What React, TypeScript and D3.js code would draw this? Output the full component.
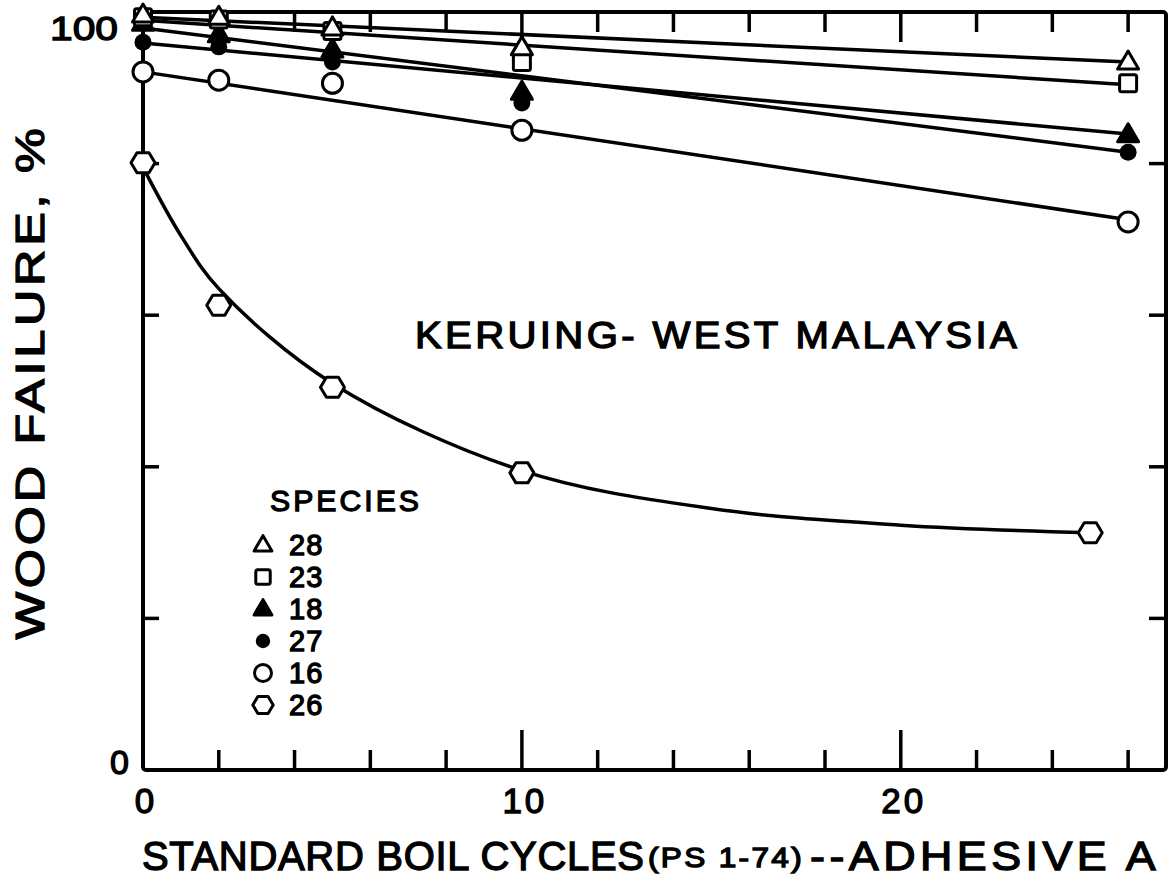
import React from 'react';
import * as d3 from 'd3';

// ---- data ----
const cycles = [0, 2, 5, 10, 26];
const species28 = [99.6, 99.3, 97.9, 95.3, 93.4];
const species23 = [99.3, 99.0, 97.5, 93.4, 90.6];
const species18 = [98.5, 97.0, 95.0, 89.4, 83.8];
const species27 = [96.0, 95.4, 93.4, 88.0, 81.5];
const species16 = [92.1, 91.0, 90.6, 84.4, 72.3];
const cycles26 = [0, 2, 5, 10, 25];
const species26 = [80.1, 61.3, 50.5, 39.2, 31.3];

// fitted straight lines (endpoints)
const fitX = [0, 26];
const fit28 = [99.3, 93.4];
const fit23 = [98.9, 90.4];
const fit18 = [95.9, 83.9];
const fit27 = [97.9, 81.5];
const fit16 = [92.1, 72.6];
// fitted curve for species 26
const curveX26 = [0, 1, 2, 5, 10, 15, 20, 25];
const curve26 = [79.5, 70.5, 63.5, 51, 39.5, 34.5, 32.3, 31.3];

const xTicks = [2, 4, 6, 8, 10, 12, 14, 16, 18, 20, 22, 24, 26];
const xMajor = [10, 20];
const xLabels = [0, 10, 20];
const yTicks = [20, 40, 60, 80];
const yLabels = [0, 100];
const legendNames = ['28', '23', '18', '27', '16', '26'];
const legendShapes = ['triUp', 'square', 'triFill', 'dot', 'circle', 'hex'];

const FONT = "'Liberation Sans', Arial, sans-serif";

function Marker({ shape, cx, cy, s = 1 }: { shape: string; cx: number; cy: number; s?: number }) {
  const sw = 3;
  if (shape === 'triUp' || shape === 'triFill') {
    const d = `M${cx},${cy - 11 * s}L${cx + 10.5 * s},${cy + 7 * s}L${cx - 10.5 * s},${cy + 7 * s}Z`;
    return <path d={d} fill={shape === 'triFill' ? '#000' : '#fff'} stroke="#000" strokeWidth={sw} strokeLinejoin="round" />;
  }
  if (shape === 'square') {
    const h = 8.5 * s;
    return <rect x={cx - h} y={cy - h} width={2 * h} height={2 * h} rx={2} fill="#fff" stroke="#000" strokeWidth={sw} />;
  }
  if (shape === 'dot') {
    return <circle cx={cx} cy={cy} r={8.5 * s} fill="#000" />;
  }
  if (shape === 'circle') {
    return <circle cx={cx} cy={cy} r={10 * s} fill="#fff" stroke="#000" strokeWidth={sw} />;
  }
  const w = 12 * s, h = 10 * s;
  const d = `M${cx - w},${cy}L${cx - w / 2},${cy - h}L${cx + w / 2},${cy - h}L${cx + w},${cy}L${cx + w / 2},${cy + h}L${cx - w / 2},${cy + h}Z`;
  return <path d={d} fill="#fff" stroke="#000" strokeWidth={sw} strokeLinejoin="round" />;
}

export default function App() {
  const W = 1174, H = 887;
  const left = 143, right = 1166, top = 12, bottom = 770;
  const x = d3.scaleLinear().domain([0, 27]).range([left, right]);
  const y = d3.scaleLinear().domain([0, 100]).range([bottom, top]);

  const straight = d3.line<number>().x((_, i) => x(fitX[i])).y((v) => y(v));
  const curved = d3
    .line<number>()
    .x((_, i) => x(curveX26[i]))
    .y((v) => y(v))
    .curve(d3.curveCatmullRom.alpha(0.5));

  const series = [
    { shape: 'circle', vals: species16, xs: cycles },
    { shape: 'dot', vals: species27, xs: cycles },
    { shape: 'triFill', vals: species18, xs: cycles },
    { shape: 'square', vals: species23, xs: cycles },
    { shape: 'triUp', vals: species28, xs: cycles },
    { shape: 'hex', vals: species26, xs: cycles26 },
  ];
  const fits = [fit16, fit27, fit18, fit23, fit28];

  const lineStyle = { fill: 'none', stroke: '#000', strokeWidth: 3.5, strokeLinecap: 'round' as const };
  const txt = { fill: '#000', stroke: '#000', strokeWidth: 1.3 };
  const sg = 'spacingAndGlyphs';

  return (
    <svg width={W} height={H} style={{ position: 'absolute', left: 0, top: 0, background: '#fff' }} fontFamily={FONT}>
      <rect x={0} y={0} width={W} height={H} fill="#fff" />
      <rect x={left} y={top} width={right - left} height={bottom - top} fill="none" stroke="#000" strokeWidth={4} rx={3} />
      {xTicks.map((t) => {
        const major = xMajor.includes(t);
        return (
          <g key={'xt' + t}>
            <line x1={x(t)} x2={x(t)} y1={bottom} y2={bottom - (major ? 40 : 20)} stroke="#000" strokeWidth={3.5} />
            <line x1={x(t)} x2={x(t)} y1={top} y2={top + (major ? 30 : 20)} stroke="#000" strokeWidth={3.5} />
          </g>
        );
      })}
      {yTicks.map((t) => (
        <g key={'yt' + t}>
          <line x1={left} x2={left + 16} y1={y(t)} y2={y(t)} stroke="#000" strokeWidth={3.5} />
          <line x1={right} x2={right - 17} y1={y(t)} y2={y(t)} stroke="#000" strokeWidth={3.5} />
        </g>
      ))}
      {xLabels.map((t) => (
        <text key={'xl' + t} x={x(t) + 3} y={bottom + 43} fontSize={35} textAnchor="middle" letterSpacing={3} {...txt}>
          {t}
        </text>
      ))}
      {yLabels.map((t) =>
        t === 100 ? (
          <text key={'yl' + t} x={50} y={y(t) + 28} fontSize={34} textLength={68} lengthAdjust={sg} {...txt}>
            {t}
          </text>
        ) : (
          <text key={'yl' + t} x={129} y={y(t) + 4} fontSize={34} textAnchor="end" {...txt}>
            {t}
          </text>
        )
      )}
      {fits.map((f, i) => (
        <path key={'fit' + i} d={straight(f) || ''} {...lineStyle} />
      ))}
      <path d={curved(curve26) || ''} {...lineStyle} />
      {series.map((s, si) =>
        s.vals.map((v, i) => <Marker key={`m${si}-${i}`} shape={s.shape} cx={x(s.xs[i])} cy={y(v)} />)
      )}
      <text x={415} y={348} fontSize={36} letterSpacing={3} textLength={605} lengthAdjust={sg} xmlSpace="preserve" {...txt}>
        KERUING- WEST MALAYSIA
      </text>
      <text x={270} y={511} fontSize={30} letterSpacing={3} textLength={152} lengthAdjust={sg} {...txt}>
        SPECIES
      </text>
      {legendNames.map((n, i) => (
        <g key={'lg' + n}>
          <Marker shape={legendShapes[i]} cx={263} cy={545 + i * 32} s={0.85} />
          <text x={289} y={555 + i * 32} fontSize={29} letterSpacing={1} {...txt}>
            {n}
          </text>
        </g>
      ))}
      <text x={142} y={870} fontSize={40} textLength={502} lengthAdjust="spacing" {...txt}>
        STANDARD BOIL CYCLES
      </text>
      <text x={648} y={867} fontSize={27} letterSpacing={2} textLength={156} lengthAdjust={sg} {...txt}>
        (PS 1-74)
      </text>
      <text x={810} y={870} fontSize={40} letterSpacing={4} textLength={350} lengthAdjust={sg} {...txt}>
        --ADHESIVE A
      </text>
      <text
        transform={`translate(44, 382) rotate(-90)`}
        fontSize={41}
        textAnchor="middle"
        letterSpacing={3}
        textLength={515}
        lengthAdjust={sg}
        {...txt}
      >
        WOOD FAILURE, %
      </text>
    </svg>
  );
}
